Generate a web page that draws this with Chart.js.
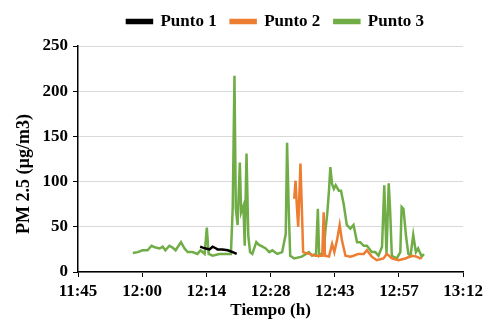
<!DOCTYPE html>
<html>
<head>
<meta charset="utf-8">
<script src="https://cdn.jsdelivr.net/npm/chart.js@4.4.0/dist/chart.umd.min.js"></script>
<style>
  html, body { margin: 0; padding: 0; background: #fff; }
  #wrap { width: 487px; height: 321px; }
</style>
</head>
<body>
<div id="wrap"><canvas id="pmChart" width="487" height="321"></canvas></div>
<script>
// time in minutes since midnight, PM 2.5 in ug/m3
const p1Time = [733.0, 733.6, 734.3, 735.1, 735.8, 736.6, 736.9, 738.0, 739.2, 740.3, 741.2];
const p1Vals = [28, 27, 26, 25, 28, 26, 25, 25, 24, 22, 20];

const p2Time = [754.1, 754.4, 754.7, 755.0, 755.5, 755.8, 756.1, 757.4, 758.9, 760.4, 760.7, 761.0,
  761.9, 762.6, 763.1, 763.7, 764.3, 764.8, 765.6, 766.7, 767.4, 768.5, 769.7, 770.4, 771.5, 772.6,
  774.1, 774.9, 776.0, 777.5, 779.0, 780.5, 781.6, 782.3, 782.7];
const p2Vals = [81, 101, 72, 50, 120, 72, 22, 20, 18, 18, 66, 18,
  17, 31, 22, 35, 52, 35, 18, 17, 18, 20, 20, 24, 17, 13,
  15, 20, 15, 13, 15, 18, 17, 15, 16];

const p3Time = [717.9, 719.0, 720.1, 721.2, 722.1, 723.0, 723.9, 724.6, 725.2, 726.1, 726.8, 727.5,
  728.7, 729.5, 730.2, 731.3, 732.4, 733.1, 734.0, 734.5, 734.9, 735.8, 737.3, 738.6, 739.9, 740.3,
  740.7, 741.0, 741.4, 741.9, 742.2, 742.7, 743.0, 743.4, 743.8, 744.2, 744.7, 745.6, 746.2, 747.0,
  747.7, 748.5, 749.2, 750.3, 751.4, 752.2, 752.5, 752.9, 753.2, 754.1, 755.8, 757.4, 758.1, 759.0,
  759.4, 759.7, 760.7, 761.1, 761.5, 761.9, 762.2, 762.6, 763.0, 763.4, 764.1, 764.6, 765.2, 765.9,
  766.7, 767.4, 768.2, 768.9, 769.7, 770.4, 771.5, 772.3, 773.0, 773.8, 774.3, 774.8, 775.3, 775.6,
  776.0, 777.1, 777.9, 778.2, 778.6, 779.2, 779.7, 780.2, 780.8, 781.4, 781.9, 782.7, 783.2];
const p3Vals = [21, 22, 24, 24, 29, 27, 26, 28, 24, 29, 27, 24,
  33, 26, 22, 22, 20, 24, 20, 49, 20, 18, 20, 20, 20, 70,
  217, 70, 52, 121, 66, 73, 29, 131, 40, 22, 20, 33, 30, 28,
  26, 22, 24, 20, 22, 42, 143, 64, 18, 15, 17, 22, 18, 20,
  70, 18, 22, 46, 64, 90, 116, 97, 92, 96, 90, 90, 75, 52,
  48, 52, 33, 33, 29, 29, 22, 22, 18, 28, 96, 20, 98, 70,
  18, 15, 22, 72, 70, 39, 20, 18, 41, 22, 26, 17, 20];

const xTickLabels = ['11:45', '12:00', '12:14', '12:28', '12:43', '12:57', '13:12'];
const xStart = 705.6;   // 0.49 day
const xStep = 14.4;     // 0.01 day
const yTitle = 'PM 2.5 (µg/m3)';

function toPoints(times, vals) {
  return times.map((t, i) => ({ x: t, y: vals[i] }));
}

const serif = "'Liberation Serif', 'Times New Roman', serif";

// nudge the legend (Excel puts it over the plot area) and draw the y title off-centre like the original
const layoutTweaks = {
  id: 'layoutTweaks',
  beforeLayout(chart) {
    const lg = chart.legend;
    if (lg && !lg._patched) {
      const fit = lg.fit;
      lg.fit = function () { fit.call(this); this.height += 5; };
      lg._patched = true;
    }
  },
  afterLayout(chart) {
    const lg = chart.legend;
    lg.left += 43; lg.right += 43;
    lg.top -= 1; lg.bottom -= 1;
  },
  afterDraw(chart) {
    const ctx = chart.ctx;
    ctx.save();
    ctx.translate(24, 174);
    ctx.rotate(-Math.PI / 2);
    ctx.font = 'bold 18px ' + serif;
    ctx.fillStyle = '#000';
    ctx.textAlign = 'center';
    ctx.textBaseline = 'middle';
    ctx.fillText(yTitle, 0, 0);
    ctx.restore();
  }
};

new Chart(document.getElementById('pmChart'), {
  type: 'line',
  data: {
    datasets: [
      { label: 'Punto 1', data: toPoints(p1Time, p1Vals), borderColor: '#000000', backgroundColor: '#000000' },
      { label: 'Punto 2', data: toPoints(p2Time, p2Vals), borderColor: '#ED7D31', backgroundColor: '#ED7D31' },
      { label: 'Punto 3', data: toPoints(p3Time, p3Vals), borderColor: '#70AD47', backgroundColor: '#70AD47' }
    ]
  },
  plugins: [layoutTweaks],
  options: {
    responsive: false,
    animation: false,
    layout: { padding: { left: 0, right: 22, top: 0, bottom: 0 } },
    elements: {
      line: { borderWidth: 2.5, tension: 0 },
      point: { radius: 0 }
    },
    plugins: {
      legend: {
        position: 'top',
        labels: {
          font: { family: serif, size: 17, weight: 'bold' },
          color: '#000',
          boxWidth: 25,
          boxHeight: 3,
          padding: 14
        }
      },
      tooltip: { enabled: false }
    },
    scales: {
      x: {
        type: 'linear',
        min: xStart,
        max: xStart + xStep * (xTickLabels.length - 1),
        afterBuildTicks: s => {
          s.ticks = xTickLabels.map((_, i) => ({ value: xStart + xStep * i }));
        },
        afterFit: s => { s.height = 49; },
        ticks: {
          autoSkip: false,
          maxRotation: 0,
          color: '#000',
          padding: 4,
          font: { family: serif, size: 17, weight: 'bold' },
          callback: (v, i) => xTickLabels[i]
        },
        grid: { drawOnChartArea: false, drawTicks: true, tickLength: 5, tickColor: '#000' },
        border: { color: '#000', width: 1.5 },
        title: {
          display: true,
          text: 'Tiempo (h)',
          color: '#000',
          padding: { top: 0, bottom: 0 },
          font: { family: serif, size: 17, weight: 'bold' }
        }
      },
      y: {
        min: 0,
        max: 250,
        afterFit: s => { s.width = 78; },
        ticks: {
          stepSize: 50,
          color: '#000',
          padding: 5,
          font: { family: serif, size: 17, weight: 'bold' }
        },
        grid: { color: '#d9d9d9', lineWidth: 1, tickLength: 5, tickColor: '#000' },
        border: { color: '#000', width: 1.5 }
      }
    }
  }
});
</script>
</body>
</html>
